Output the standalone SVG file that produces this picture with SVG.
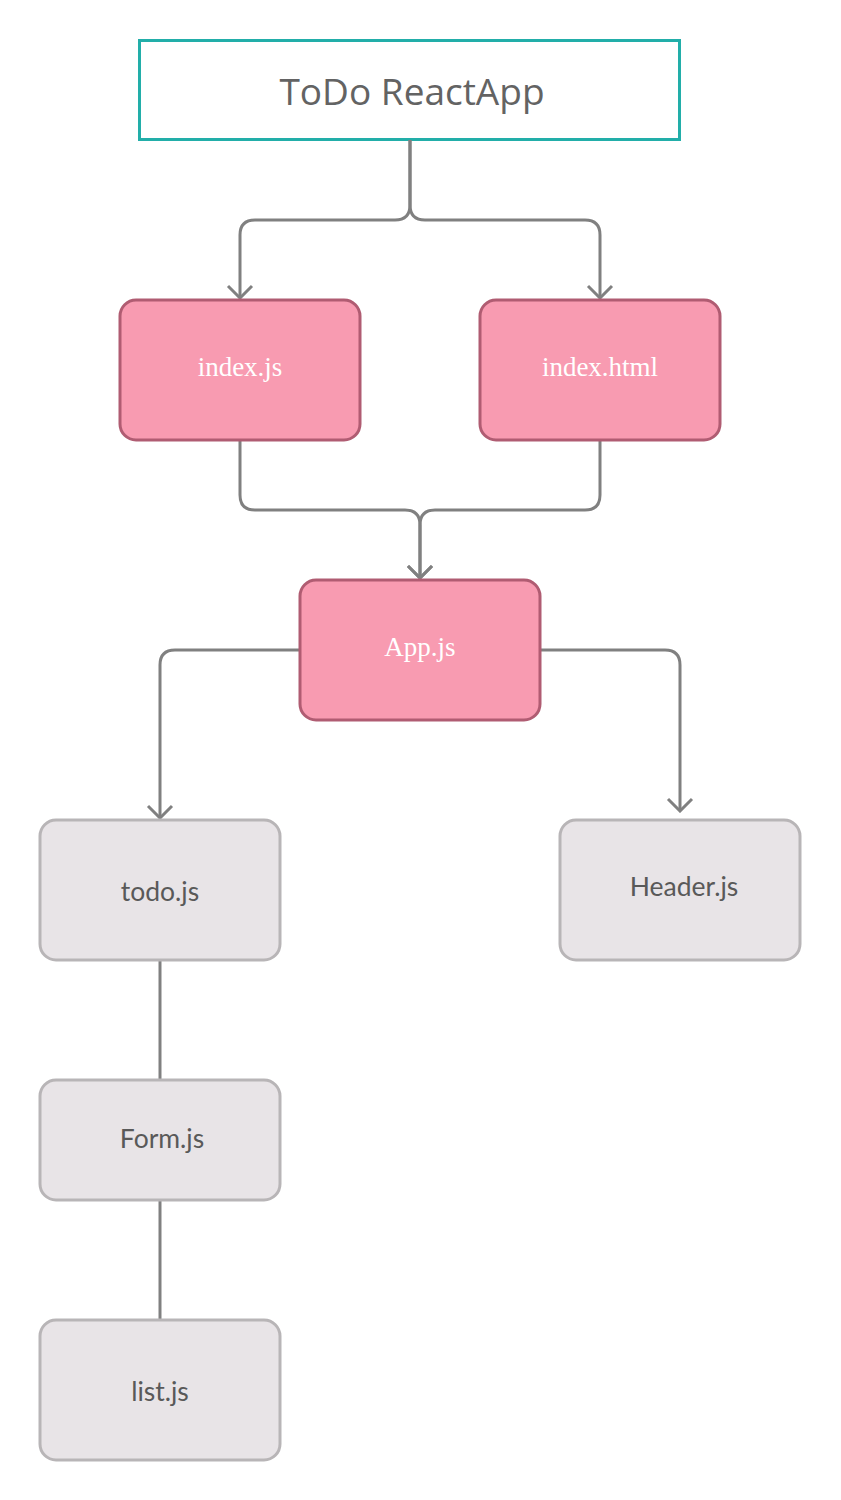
<svg xmlns="http://www.w3.org/2000/svg" width="841" height="1500" viewBox="0 0 841 1500">
<defs>
<style>
.pink rect{fill:#f89bb1;stroke:#b05c72;stroke-width:3}
.gray rect{fill:#e8e4e7;stroke:#b8b5b7;stroke-width:3}
.pink text{font-family:"Liberation Serif",serif;font-size:27px;fill:#ffffff;text-anchor:middle;dominant-baseline:central}
.gray text{font-family:Lato,"Liberation Sans",sans-serif;font-size:26.5px;fill:#595959;text-anchor:middle;dominant-baseline:central}
.conn path{fill:none;stroke:#808080;stroke-width:3}
</style>
<marker id="arr" viewBox="-14 -14 16 28" refX="0" refY="0" markerWidth="16" markerHeight="28" markerUnits="userSpaceOnUse" orient="auto">
<path d="M-12,-12 L0,0 L-12,12" fill="none" stroke="#808080" stroke-width="3"/>
</marker>
</defs>
<rect width="841" height="1500" fill="#ffffff"/>
<g id="title">
<rect x="139.5" y="40.5" width="540" height="99" fill="#ffffff" stroke="#22aea9" stroke-width="3"/>
<text x="412" y="90" font-family="'Open Sans','Noto Sans',sans-serif" font-size="37" fill="#636363" text-anchor="middle" dominant-baseline="central">ToDo ReactApp</text>
</g>
<g class="conn" id="connectors">
<path d="M410 140 V205 Q410 220 395 220 H255 Q240 220 240 235 V298" marker-end="url(#arr)"/>
<path d="M410 140 V205 Q410 220 425 220 H585 Q600 220 600 235 V298" marker-end="url(#arr)"/>
<path d="M240 440 V495 Q240 510 255 510 H405 Q420 510 420 525 V578" marker-end="url(#arr)"/>
<path d="M600 440 V495 Q600 510 585 510 H435 Q420 510 420 525 V578" marker-end="url(#arr)"/>
<path d="M300 650 H175 Q160 650 160 665 V818" marker-end="url(#arr)"/>
<path d="M540 650 H665 Q680 650 680 665 V811" marker-end="url(#arr)"/>
<path d="M160 960 V1080"/>
<path d="M160 1200 V1320"/>
</g>
<g id="index-js" class="pink"><rect x="120" y="300" width="240" height="140" rx="16"/><text x="240" y="367">index.js</text></g>
<g id="index-html" class="pink"><rect x="480" y="300" width="240" height="140" rx="16"/><text x="600" y="367">index.html</text></g>
<g id="app-js" class="pink"><rect x="300" y="580" width="240" height="140" rx="16"/><text x="420" y="647">App.js</text></g>
<g id="todo-js" class="gray"><rect x="40" y="820" width="240" height="140" rx="16"/><text x="160" y="891">todo.js</text></g>
<g id="header-js" class="gray"><rect x="560" y="820" width="240" height="140" rx="16"/><text x="684" y="886">Header.js</text></g>
<g id="form-js" class="gray"><rect x="40" y="1080" width="240" height="120" rx="16"/><text x="162" y="1138">Form.js</text></g>
<g id="list-js" class="gray"><rect x="40" y="1320" width="240" height="140" rx="16"/><text x="160" y="1391">list.js</text></g>
</svg>
